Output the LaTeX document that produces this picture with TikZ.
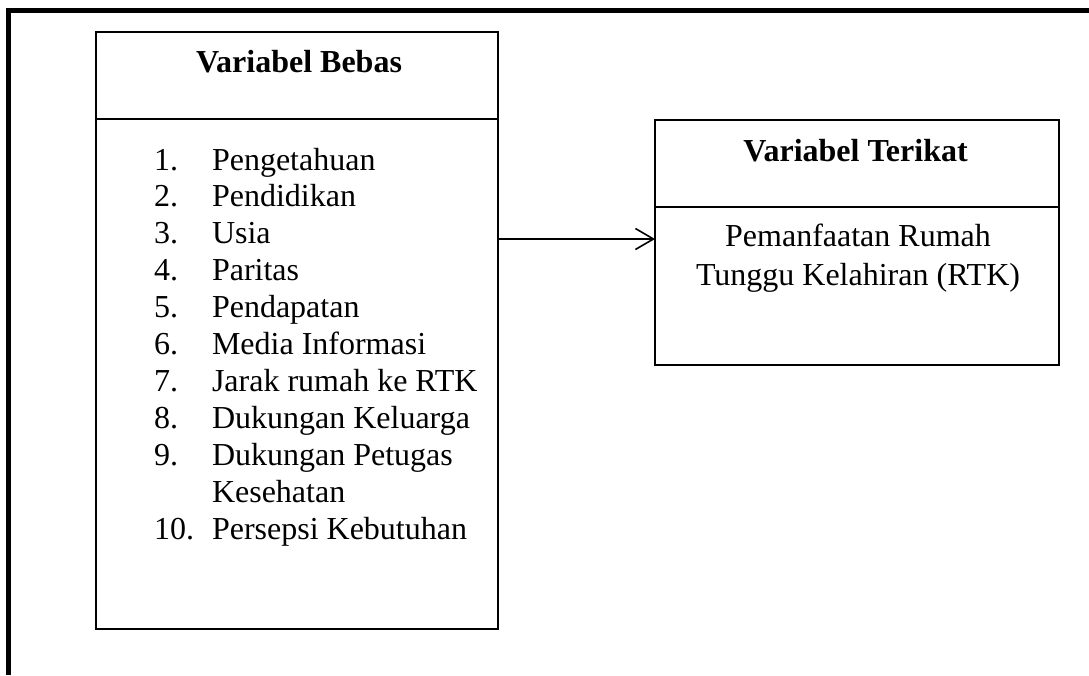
\documentclass[tikz,border=0pt]{standalone}
\usepackage{fontspec}
\setmainfont{Liberation Serif}
\usetikzlibrary{arrows.meta}
\begin{document}
\begin{tikzpicture}[x=1pt,y=-1pt,
  box/.style={draw, line width=2pt, inner sep=0pt, outer sep=0pt},
  txt/.style={font=\fontsize{32}{36.9}\selectfont, inner sep=0pt, outer sep=0pt},
  ttl/.style={font=\fontsize{32}{36.9}\selectfont\bfseries, inner sep=0pt, outer sep=0pt},
  conn/.style={line width=1.6pt, -{Straight Barb[length=18pt,width=21pt,line width=1.6pt]}}]
\useasboundingbox (0,0) rectangle (1089,675);
% outer frame (cut off at right and bottom)
\draw[line width=5pt] (8,675) -- (8,10) -- (1089,10);
% left box
\node[box, minimum width=402pt, minimum height=87pt] (lt) at (297,75.5) {};
\node[box, minimum width=402pt, minimum height=509.5pt] (lb) at (297,373.75) {};
\node[ttl, anchor=base] (ltt) at (299,72.7) {Variabel Bebas};
% list
\foreach \i/\t in {1/Pengetahuan,2/Pendidikan,3/Usia,4/Paritas,5/Pendapatan,6/Media Informasi,7/Jarak rumah ke RTK,8/Dukungan Keluarga,9/Dukungan Petugas}{
  \node[txt, anchor=base west] (num\i) at (154,{170+36.9*(\i-1)}) {\i.};
  \node[txt, anchor=base west] (item\i) at (212,{170+36.9*(\i-1)}) {\t};
}
\node[txt, anchor=base west] (item9b) at (212,{170+36.9*9}) {Kesehatan};
\node[txt, anchor=base west] (num10) at (154,{170+36.9*10}) {10.};
\node[txt, anchor=base west] (item10) at (212,{170+36.9*10}) {Persepsi Kebutuhan};
% right box
\node[box, minimum width=404pt, minimum height=87pt] (rt) at (857,163.5) {};
\node[box, minimum width=404pt, minimum height=158pt] (rb) at (857,286) {};
\node[ttl, anchor=base] (rtt) at (855.5,161) {Variabel Terikat};
\node[txt, anchor=base] (rb1) at (858,246.7) {Pemanfaatan Rumah};
\node[txt, anchor=base] (rb2) at (858,285) {Tunggu Kelahiran (RTK)};
% arrow
\coordinate (tip) at (rb.west |- 0,239);
\draw[conn] (lb.east |- tip) -- (tip);
\end{tikzpicture}
\end{document}
